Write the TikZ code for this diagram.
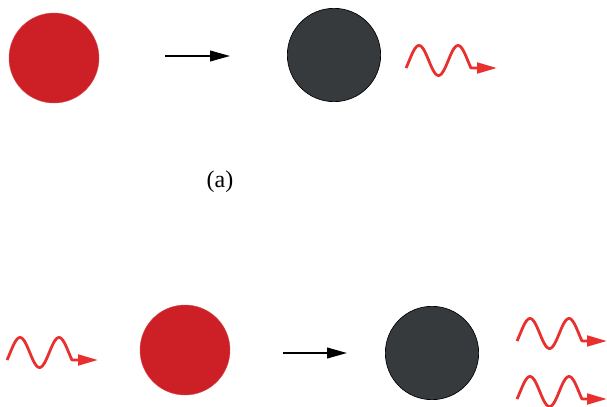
\documentclass[tikz,border=0pt]{standalone}
\usepackage{fontspec}
\setmainfont{Liberation Serif}
\usetikzlibrary{arrows.meta}
\definecolor{atomred}{HTML}{CC1F26}
\definecolor{atomdark}{HTML}{373A3D}
\definecolor{wavered}{HTML}{E8302E}
\tikzset{
  redatom/.style={circle, fill=atomred, draw=atomred!80!white, line width=0.3pt, minimum size=67.5pt, inner sep=0pt},
  darkatom/.style={circle, fill=atomdark, draw=black, line width=0.5pt, minimum size=70pt, inner sep=0pt},
  react/.style={line width=1.5pt, -{Triangle[length=15pt, width=8pt]}},
  photon/.style={wavered, line width=2.1pt, line join=round, -{Triangle[length=15pt, width=8pt]}},
}
\begin{document}
\begin{tikzpicture}[x=0.75pt, y=-0.75pt]
  \useasboundingbox (0,0) rectangle (607,407);
  % (a)
  \node[redatom] (r1) at (54,58) {};
  \node[darkatom] (d1) at (334,55) {};
  \coordinate (a1s) at (165,56);
  \coordinate (a1e) at (230,56);
  \draw[react] (a1s) -- (a1e);
  \coordinate (w1) at (406,68);
  \begin{scope}[shift={(w1)}]
    \draw[photon] plot[domain=-30:570, samples=80] ({(\x+30)/360*39}, {-15*sin(\x)-7.5}) -- ++(26,0);
  \end{scope}
  \node[font=\fontsize{18}{21}\selectfont] (lab) at (220,182) {(a)};
  % (b)
  \coordinate (w2) at (7,360);
  \begin{scope}[shift={(w2)}]
    \draw[photon] plot[domain=-30:570, samples=80] ({(\x+30)/360*39}, {-15*sin(\x)-7.5}) -- ++(26,0);
  \end{scope}
  \node[redatom] (r2) at (185,350) {};
  \coordinate (a2s) at (283,353);
  \coordinate (a2e) at (347,353);
  \draw[react] (a2s) -- (a2e);
  \node[darkatom] (d2) at (432,353) {};
  \coordinate (w3) at (517,341);
  \begin{scope}[shift={(w3)}]
    \draw[photon] plot[domain=-30:570, samples=80] ({(\x+30)/360*39}, {-15*sin(\x)-7.5}) -- ++(25,0);
  \end{scope}
  \coordinate (w4) at (517,399);
  \begin{scope}[shift={(w4)}]
    \draw[photon] plot[domain=-30:570, samples=80] ({(\x+30)/360*39}, {-15*sin(\x)-7.5}) -- ++(25,0);
  \end{scope}
\end{tikzpicture}
\end{document}
